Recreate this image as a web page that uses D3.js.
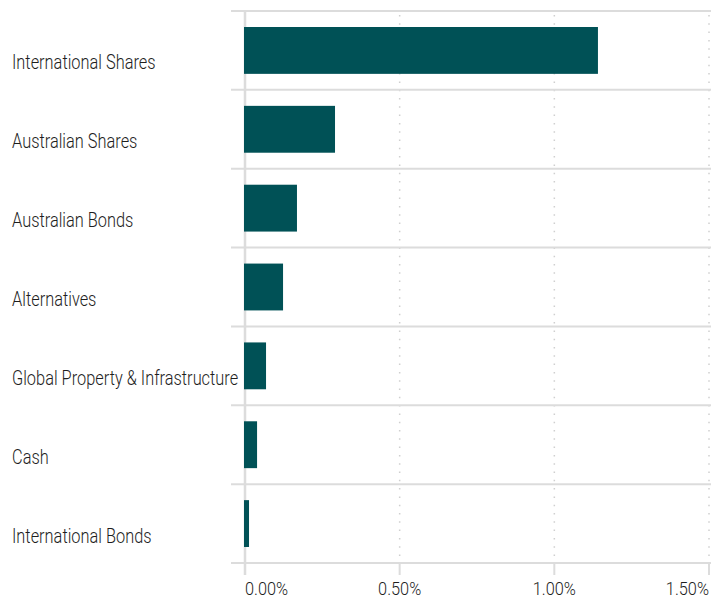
<!DOCTYPE html>
<html>
<head>
<meta charset="utf-8">
<script src="https://cdn.jsdelivr.net/npm/d3@7"></script>
<style>
  html, body { margin: 0; padding: 0; background: #fff; }
  text { font-family: Roboto, "Noto Sans", sans-serif; font-weight: 300; fill: #1e1e1e; }
</style>
</head>
<body>
<svg id="chart" width="711" height="598"></svg>
<script>
const categories = ["International Shares", "Australian Shares", "Australian Bonds", "Alternatives", "Global Property & Infrastructure", "Cash", "International Bonds"];
const values = [1.141, 0.291, 0.168, 0.123, 0.068, 0.039, 0.013];
const tickValues = [0, 0.5, 1.0, 1.5];
const tickLabels = ["0.00%", "0.50%", "1.00%", "1.50%"];

const svg = d3.select("#chart");
const margin = { top: 11, right: 2, bottom: 35, left: 245 };

const x = d3.scaleLinear().domain([0, 1.5]).range([margin.left, 709]);
const y = d3.scaleBand().domain(categories).range([margin.top, 563]).paddingInner(0).paddingOuter(0);

// dotted vertical grid
svg.append("g").selectAll("line").data(tickValues.slice(1)).join("line")
  .attr("x1", d => x(d)).attr("x2", d => x(d))
  .attr("y1", margin.top + 4).attr("y2", 563)
  .attr("stroke", "#cfcfcf").attr("stroke-width", 1.5)
  .attr("stroke-dasharray", "1.5,6.8");

// horizontal separators
const seps = categories.map(c => y(c)).concat([y(categories[categories.length - 1]) + y.bandwidth()]);
svg.append("g").selectAll("line").data(seps).join("line")
  .attr("x1", 231).attr("x2", 711)
  .attr("y1", d => d).attr("y2", d => d)
  .attr("stroke", "#dcdcdc").attr("stroke-width", 2);

// tick marks at bottom
svg.append("g").selectAll("line").data(tickValues).join("line")
  .attr("x1", d => x(d)).attr("x2", d => x(d))
  .attr("y1", 563).attr("y2", 575)
  .attr("stroke", "#dcdcdc").attr("stroke-width", 2);

// zero axis line
svg.append("line")
  .attr("x1", x(0)).attr("x2", x(0))
  .attr("y1", margin.top).attr("y2", 575)
  .attr("stroke", "#dcdcdc").attr("stroke-width", 2.5);

// bars
const barPad = 16;
svg.append("g").selectAll("rect").data(categories).join("rect")
  .attr("x", x(0) - 1)
  .attr("y", d => y(d) + barPad)
  .attr("width", (d, i) => x(values[i]) - x(0) + 1)
  .attr("height", y.bandwidth() - 2 * barPad)
  .attr("fill", "#005156");

// category labels (horizontally condensed)
const sx = 0.84;
svg.append("g").attr("transform", `scale(${sx},1)`)
  .selectAll("text").data(categories).join("text")
  .attr("x", 12 / sx)
  .attr("y", d => y(d) + y.bandwidth() / 2 + 19)
  .attr("font-size", 19.5)
  .text(d => d);

// tick labels
const tx = 0.86;
svg.append("g").attr("transform", `scale(${tx},1)`)
  .selectAll("text").data(tickValues).join("text")
  .attr("x", d => x(d) / tx)
  .attr("y", 595)
  .attr("font-size", 19)
  .attr("text-anchor", (d, i) => i === 0 ? "start" : (i === tickValues.length - 1 ? "end" : "middle"))
  .text((d, i) => tickLabels[i]);
</script>
</body>
</html>
